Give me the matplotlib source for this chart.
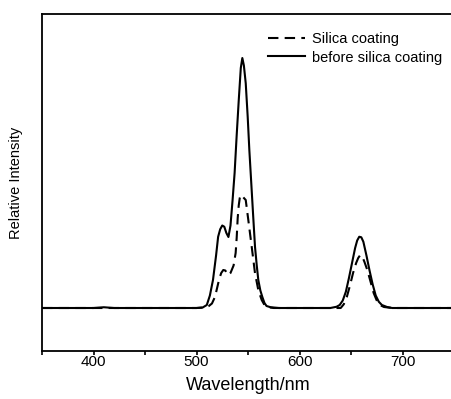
import matplotlib
matplotlib.use("Agg")
import matplotlib.pyplot as plt
from matplotlib.ticker import MultipleLocator, NullLocator

plt.rcParams['font.family'] = ['Liberation Sans', 'DejaVu Sans']

# before silica coating (solid)
wl_before = [350, 400, 410, 420, 450, 500, 506, 510, 513, 516, 519, 521, 523, 525, 527,
             529, 531, 533, 535, 537, 539, 541, 543, 544.5, 546, 547.8, 549.7, 551.3, 552.9, 555,
             556.8, 558.5, 560, 562, 564, 566, 568, 572, 580, 600, 630, 636, 639, 642, 645,
             648, 651, 654, 656, 658, 660, 662, 665, 668, 671, 674, 677, 680, 685, 690, 750]
int_before = [0.0, 0.0, 0.003, 0.0, 0.0, 0.0, 0.002, 0.012, 0.05, 0.112, 0.21, 0.285, 0.315, 0.33, 0.325,
              0.30, 0.284, 0.33, 0.43, 0.54, 0.69, 0.83, 0.96, 1.0, 0.97, 0.899, 0.765, 0.632, 0.519, 0.37,
              0.245, 0.17, 0.112, 0.07, 0.043, 0.02, 0.008, 0.003, 0.0, 0.0, 0.0, 0.005, 0.012, 0.03, 0.065,
              0.12, 0.18, 0.24, 0.27, 0.285, 0.283, 0.265, 0.21, 0.15, 0.095, 0.05, 0.025, 0.012, 0.004, 0.0, 0.0]

# silica coating (dashed)
wl_silica = [350, 400, 450, 500, 508, 512, 515, 518, 520, 522, 524, 526, 528, 530, 531,
             533, 536, 538, 539, 540, 541, 542, 543, 544, 546, 547.8, 550.3, 553.6, 556.8, 560,
             563.3, 566, 570, 575, 640, 643, 646, 649, 652, 655, 657, 659, 661, 663, 666,
             669, 672, 675, 678, 682, 690, 750]
int_silica = [0.0, 0.0, 0.0, 0.0, 0.002, 0.008, 0.018, 0.045, 0.08, 0.115, 0.14, 0.152, 0.15, 0.135, 0.132,
              0.14, 0.17, 0.22, 0.28, 0.36, 0.41, 0.44, 0.452, 0.45, 0.44, 0.432, 0.352, 0.245, 0.139, 0.072,
              0.032, 0.012, 0.003, 0.0, 0.0, 0.015, 0.045, 0.09, 0.14, 0.18, 0.2, 0.212, 0.205, 0.185, 0.15,
              0.105, 0.06, 0.03, 0.012, 0.004, 0.0, 0.0]

fig = plt.figure(figsize=(4.51, 3.99), dpi=100)
ax = fig.add_axes([42/451, 48/399, 412/451, 337/399])

ax.plot(wl_silica, int_silica, color="black", lw=1.5, linestyle=(0, (5, 3)), label="Silica coating")
ax.plot(wl_before, int_before, color="black", lw=1.5, label="before silica coating")

ax.set_xlim(350, 750)
ax.set_ylim(-0.172, 1.176)
ax.xaxis.set_major_locator(MultipleLocator(100))
ax.xaxis.set_minor_locator(MultipleLocator(50))
ax.yaxis.set_major_locator(NullLocator())
ax.tick_params(axis="x", which="both", direction="out", length=3, width=1.2, labelsize=11, pad=0)
ax.spines["right"].set_visible(False)
for s in ["left", "bottom", "top"]:
    ax.spines[s].set_linewidth(1.3)

ax.set_xlabel("Wavelength/nm", fontsize=13, labelpad=6)
ax.set_ylabel("Relative Intensity", fontsize=10.5, labelpad=14)

ax.legend(loc="upper left", bbox_to_anchor=(0.5485, 0.946), frameon=False, fontsize=10.5,
          handlelength=2.55, handletextpad=0.45, labelspacing=0.3, borderpad=0, borderaxespad=0)

fig.savefig("out.png", dpi=100)
